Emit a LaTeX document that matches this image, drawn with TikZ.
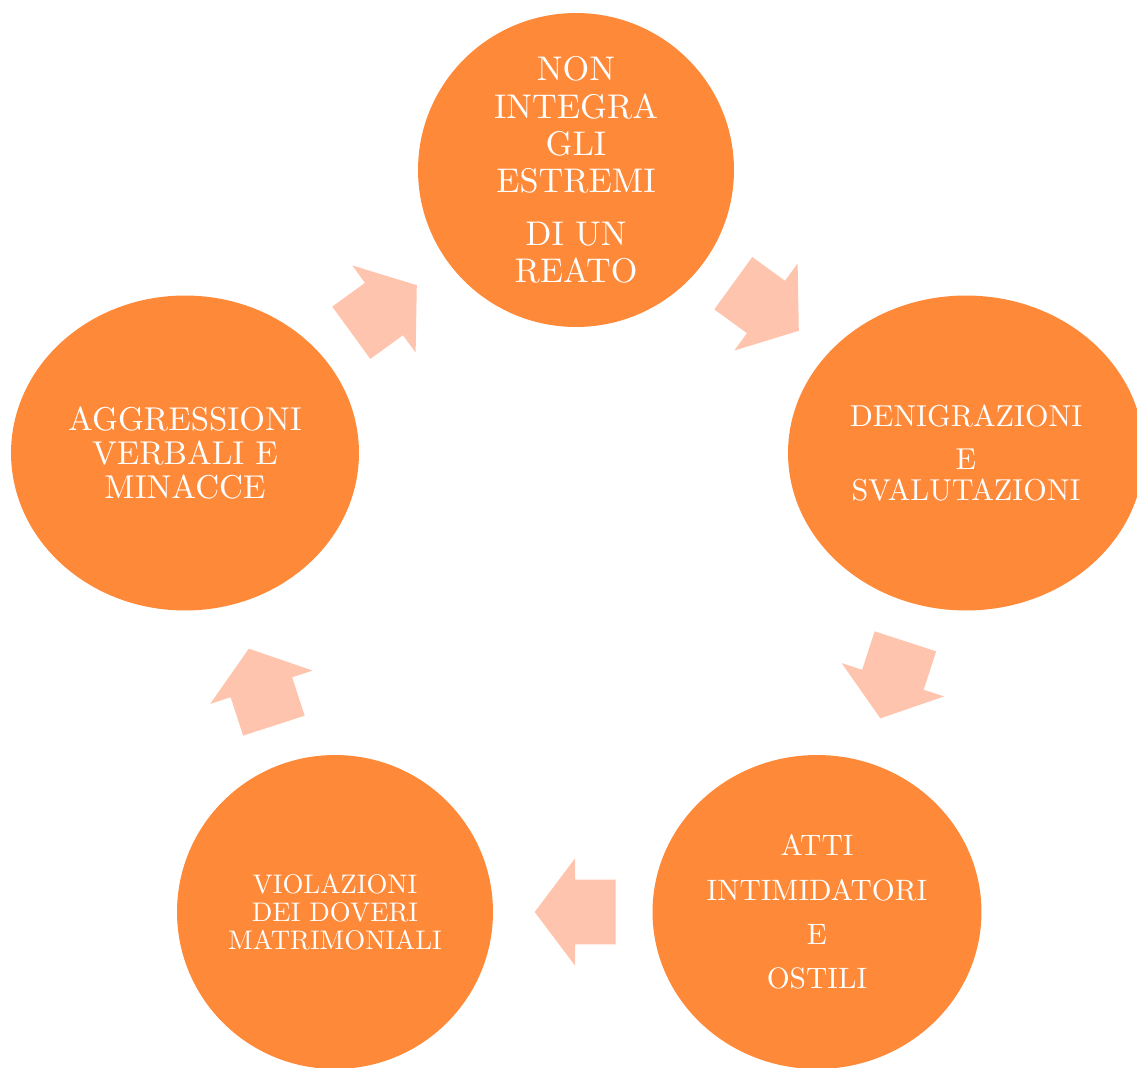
\documentclass[tikz,border=0pt]{standalone}
\usepackage{fontspec}
\setmainfont{lmroman10-regular.otf}
\usepackage{tikz}
\usetikzlibrary{shapes.geometric,shapes.arrows}
\definecolor{arancio}{RGB}{254,137,57}
\definecolor{salmone}{RGB}{254,196,174}

\begin{document}
\begin{tikzpicture}[x=0.02cm,y=-0.02cm,
  cerchio/.style={ellipse, fill=arancio, inner sep=0pt},
  testo/.style={text=white, align=center, inner sep=0pt},
  freccia/.style={single arrow, fill=salmone, inner xsep=0pt, inner ysep=0.64cm,
    anchor=tail, minimum height=1.62cm,
    single arrow head extend=0.43cm, single arrow tip angle=106}]
\clip (0,0) rectangle (1137,1068);
% ellissi
\node[cerchio, minimum width=6.32cm, minimum height=6.28cm] (reato) at (576,170) {};
\node[cerchio, minimum width=7.12cm, minimum height=6.3cm] (denig) at (966,453) {};
\node[cerchio, minimum width=6.58cm, minimum height=6.28cm] (atti) at (817,912) {};
\node[cerchio, minimum width=6.32cm, minimum height=6.28cm] (viol) at (335,912) {};
\node[cerchio, minimum width=6.96cm, minimum height=6.3cm] (aggr) at (185,453) {};
% testi
\node[testo, font=\fontsize{19.5}{21.3}\selectfont] (treato) at (reato) {NON\\INTEGRA\\GLI\\ESTREMI\\[8.5pt]DI UN\\REATO};
\node[testo, font=\fontsize{17.2}{18}\selectfont] (tdenig) at (denig) {DENIGRAZIONI\\[6.6pt]E\\SVALUTAZIONI};
\node[testo, font=\fontsize{16.8}{25.2}\selectfont] (tatti) at (atti) {ATTI\\INTIMIDATORI\\E\\OSTILI};
\node[testo, font=\fontsize{15.3}{16.1}\selectfont] (tviol) at (viol) {VIOLAZIONI\\DEI DOVERI\\MATRIMONIALI};
\node[testo, font=\fontsize{18.8}{19.4}\selectfont] (taggr) at (aggr) {AGGRESSIONI\\VERBALI E\\MINACCE};
% frecce
\node[freccia, rotate=-36] (f1) at (733,283) {};
\node[freccia, rotate=-108] (f2) at (905.5,641) {};
\node[freccia, rotate=180] (f3) at (616,912) {};
\node[freccia, rotate=108] (f4) at (274,726) {};
\node[freccia, rotate=36] (f5) at (351,333) {};
\end{tikzpicture}
\end{document}
